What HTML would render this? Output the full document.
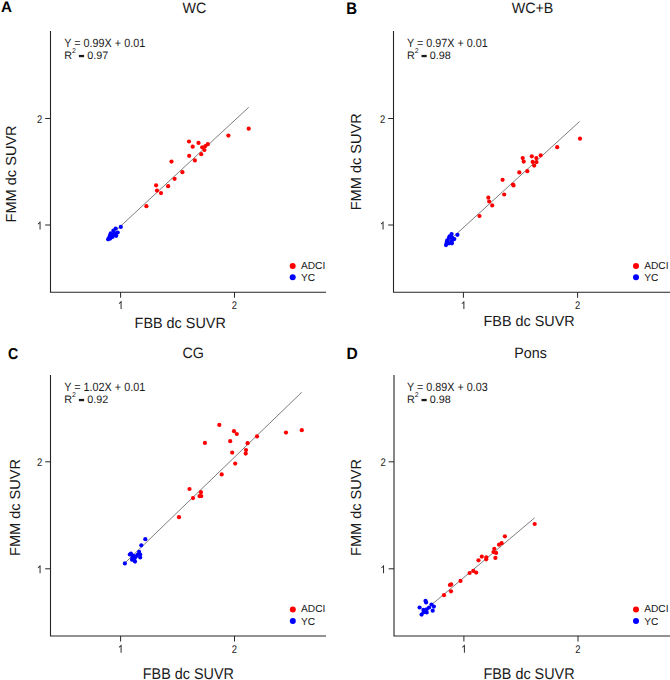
<!DOCTYPE html>
<html><head><meta charset="utf-8"><style>
html,body{margin:0;padding:0;background:#fff;}
svg{display:block;font-family:"Liberation Sans", sans-serif;text-rendering:geometricPrecision;}
</style></head><body>
<svg width="670" height="680" viewBox="0 0 670 680">
<rect width="670" height="680" fill="#fff"/>
<text transform="translate(0.9,11.6) scale(1.0,1)" font-size="15.2" font-weight="bold" fill="#000">A</text>
<text transform="translate(194.5,13.1) scale(1,1.05)" font-size="14.3" text-anchor="middle" fill="#1a1a1a">WC</text>
<path d="M50.5,31 V292.2 H326" fill="none" stroke="#262626" stroke-width="1.1"/>
<line x1="120.6" y1="292.2" x2="120.6" y2="297.7" stroke="#262626" stroke-width="1"/>
<path transform="translate(117.97,308.90) scale(0.004619,-0.005371)" d="M780,0H570V1140Q505,1078 400,1016T205,922V1104Q360,1174 474,1274T634,1466H780Z" fill="#262626"/>
<line x1="234.5" y1="292.2" x2="234.5" y2="297.7" stroke="#262626" stroke-width="1"/>
<text transform="translate(234.50,308.90) scale(0.86,1)" font-size="11.0" text-anchor="middle" fill="#262626">2</text>
<line x1="45.2" y1="118.5" x2="50.5" y2="118.5" stroke="#262626" stroke-width="1"/>
<text transform="translate(42.20,122.90) scale(0.86,1)" font-size="11.0" text-anchor="end" fill="#262626">2</text>
<line x1="45.2" y1="225.0" x2="50.5" y2="225.0" stroke="#262626" stroke-width="1"/>
<path transform="translate(36.94,229.40) scale(0.004619,-0.005371)" d="M780,0H570V1140Q505,1078 400,1016T205,922V1104Q360,1174 474,1274T634,1466H780Z" fill="#262626"/>
<text transform="translate(180.2,328.4) scale(1,1.03)" font-size="14.4" text-anchor="middle" fill="#1a1a1a">FBB dc SUVR</text>
<text transform="translate(15.6,173.9) rotate(-90)" x="0" y="0" font-size="14.55" text-anchor="middle" fill="#1a1a1a">FMM dc SUVR</text>
<text transform="translate(64.3,46.699999999999996) scale(1,1.1)" font-size="10.8" fill="#1a1a1a">Y = 0.99X + 0.01</text>
<text x="64.3" y="59.3" font-size="10.8" fill="#1a1a1a">R</text>
<text x="72.1" y="52.8" font-size="7" fill="#1a1a1a">2</text>
<rect x="78.89999999999999" y="54.9" width="5.2" height="2.3" fill="#1a1a1a"/>
<text x="87.19999999999999" y="59.3" font-size="10.8" fill="#1a1a1a">0.97</text>
<line x1="108.0" y1="237.8" x2="248.7" y2="107.3" stroke="#6e6e6e" stroke-width="0.9"/>
<circle cx="248.7" cy="128.7" r="2.1" fill="#fe0000"/>
<circle cx="228.4" cy="135.6" r="2.1" fill="#fe0000"/>
<circle cx="189.0" cy="141.5" r="2.1" fill="#fe0000"/>
<circle cx="198.5" cy="142.9" r="2.1" fill="#fe0000"/>
<circle cx="192.7" cy="146.7" r="2.1" fill="#fe0000"/>
<circle cx="202.2" cy="147.3" r="2.1" fill="#fe0000"/>
<circle cx="205.4" cy="146.1" r="2.1" fill="#fe0000"/>
<circle cx="207.8" cy="144.2" r="2.1" fill="#fe0000"/>
<circle cx="204.4" cy="150.0" r="2.1" fill="#fe0000"/>
<circle cx="201.2" cy="154.2" r="2.1" fill="#fe0000"/>
<circle cx="189.2" cy="155.8" r="2.1" fill="#fe0000"/>
<circle cx="194.9" cy="160.4" r="2.1" fill="#fe0000"/>
<circle cx="171.5" cy="161.6" r="2.1" fill="#fe0000"/>
<circle cx="182.4" cy="172.2" r="2.1" fill="#fe0000"/>
<circle cx="174.6" cy="178.8" r="2.1" fill="#fe0000"/>
<circle cx="168.1" cy="186.2" r="2.1" fill="#fe0000"/>
<circle cx="156.1" cy="185.3" r="2.1" fill="#fe0000"/>
<circle cx="157.0" cy="190.6" r="2.1" fill="#fe0000"/>
<circle cx="161.0" cy="193.1" r="2.1" fill="#fe0000"/>
<circle cx="146.4" cy="206.2" r="2.1" fill="#fe0000"/>
<circle cx="120.8" cy="226.9" r="2.1" fill="#0000fe"/>
<circle cx="115.7" cy="228.5" r="2.1" fill="#0000fe"/>
<circle cx="113.4" cy="230.7" r="2.1" fill="#0000fe"/>
<circle cx="117.7" cy="232.5" r="2.1" fill="#0000fe"/>
<circle cx="110.7" cy="233.4" r="2.1" fill="#0000fe"/>
<circle cx="114.8" cy="233.4" r="2.1" fill="#0000fe"/>
<circle cx="109.9" cy="235.7" r="2.1" fill="#0000fe"/>
<circle cx="115.7" cy="235.2" r="2.1" fill="#0000fe"/>
<circle cx="112.5" cy="237" r="2.1" fill="#0000fe"/>
<circle cx="108.1" cy="239.3" r="2.1" fill="#0000fe"/>
<circle cx="110.2" cy="238.6" r="2.1" fill="#0000fe"/>
<circle cx="109" cy="237.9" r="2.1" fill="#0000fe"/>
<circle cx="116.2" cy="235.8" r="2.1" fill="#0000fe"/>
<circle cx="112.5" cy="234.3" r="2.1" fill="#0000fe"/>
<circle cx="292.7" cy="265.9" r="3" fill="#fe0000"/>
<circle cx="292.7" cy="277.2" r="3" fill="#0000fe"/>
<text x="300.9" y="268.7" font-size="10.2" fill="#1a1a1a">ADCI</text>
<text x="300.9" y="281.0" font-size="10.2" fill="#1a1a1a">YC</text>
<text transform="translate(346.3,14.0) scale(0.9,1)" font-size="16.6" font-weight="bold" fill="#000">B</text>
<text transform="translate(532.5,13.1) scale(1,1.05)" font-size="14.3" text-anchor="middle" fill="#1a1a1a">WC+B</text>
<path d="M393.5,31 V292.3 H670" fill="none" stroke="#262626" stroke-width="1.1"/>
<line x1="463.4" y1="292.3" x2="463.4" y2="297.8" stroke="#262626" stroke-width="1"/>
<path transform="translate(460.77,309.00) scale(0.004619,-0.005371)" d="M780,0H570V1140Q505,1078 400,1016T205,922V1104Q360,1174 474,1274T634,1466H780Z" fill="#262626"/>
<line x1="577.6" y1="292.3" x2="577.6" y2="297.8" stroke="#262626" stroke-width="1"/>
<text transform="translate(577.60,309.00) scale(0.86,1)" font-size="11.0" text-anchor="middle" fill="#262626">2</text>
<line x1="388.2" y1="118.5" x2="393.5" y2="118.5" stroke="#262626" stroke-width="1"/>
<text transform="translate(385.20,122.90) scale(0.86,1)" font-size="11.0" text-anchor="end" fill="#262626">2</text>
<line x1="388.2" y1="225.0" x2="393.5" y2="225.0" stroke="#262626" stroke-width="1"/>
<path transform="translate(379.94,229.40) scale(0.004619,-0.005371)" d="M780,0H570V1140Q505,1078 400,1016T205,922V1104Q360,1174 474,1274T634,1466H780Z" fill="#262626"/>
<text transform="translate(529.1,325.9) scale(1,1.02)" font-size="14.4" text-anchor="middle" fill="#1a1a1a">FBB dc SUVR</text>
<text transform="translate(361.4,161.8) rotate(-90)" x="0" y="0" font-size="14.55" text-anchor="middle" fill="#1a1a1a">FMM dc SUVR</text>
<text transform="translate(406.9,46.699999999999996) scale(1,1.1)" font-size="10.8" fill="#1a1a1a">Y = 0.97X + 0.01</text>
<text x="406.9" y="59.3" font-size="10.8" fill="#1a1a1a">R</text>
<text x="414.7" y="52.8" font-size="7" fill="#1a1a1a">2</text>
<rect x="421.5" y="54.9" width="5.2" height="2.3" fill="#1a1a1a"/>
<text x="429.79999999999995" y="59.3" font-size="10.8" fill="#1a1a1a">0.98</text>
<line x1="446.0" y1="243.5" x2="579.7" y2="121.4" stroke="#6e6e6e" stroke-width="0.9"/>
<circle cx="580" cy="138.7" r="2.1" fill="#fe0000"/>
<circle cx="557.2" cy="147.2" r="2.1" fill="#fe0000"/>
<circle cx="540.7" cy="155.3" r="2.1" fill="#fe0000"/>
<circle cx="531.8" cy="156.3" r="2.1" fill="#fe0000"/>
<circle cx="536.3" cy="158.1" r="2.1" fill="#fe0000"/>
<circle cx="522.7" cy="158.1" r="2.1" fill="#fe0000"/>
<circle cx="523.7" cy="161.6" r="2.1" fill="#fe0000"/>
<circle cx="532.7" cy="161.9" r="2.1" fill="#fe0000"/>
<circle cx="536.5" cy="162.1" r="2.1" fill="#fe0000"/>
<circle cx="534.2" cy="165.6" r="2.1" fill="#fe0000"/>
<circle cx="527.3" cy="171.2" r="2.1" fill="#fe0000"/>
<circle cx="519.3" cy="172.4" r="2.1" fill="#fe0000"/>
<circle cx="502.6" cy="179.8" r="2.1" fill="#fe0000"/>
<circle cx="513" cy="184.5" r="2.1" fill="#fe0000"/>
<circle cx="513.5" cy="185.4" r="2.1" fill="#fe0000"/>
<circle cx="504.2" cy="194.5" r="2.1" fill="#fe0000"/>
<circle cx="488.3" cy="197.7" r="2.1" fill="#fe0000"/>
<circle cx="489.2" cy="201.5" r="2.1" fill="#fe0000"/>
<circle cx="492.2" cy="205.4" r="2.1" fill="#fe0000"/>
<circle cx="479.5" cy="216" r="2.1" fill="#fe0000"/>
<circle cx="457.4" cy="234.8" r="2.1" fill="#0000fe"/>
<circle cx="451.6" cy="234" r="2.1" fill="#0000fe"/>
<circle cx="449.6" cy="236.4" r="2.1" fill="#0000fe"/>
<circle cx="454.3" cy="239.1" r="2.1" fill="#0000fe"/>
<circle cx="447.2" cy="240.3" r="2.1" fill="#0000fe"/>
<circle cx="451.9" cy="240.9" r="2.1" fill="#0000fe"/>
<circle cx="446" cy="245.1" r="2.1" fill="#0000fe"/>
<circle cx="449" cy="243.3" r="2.1" fill="#0000fe"/>
<circle cx="446.6" cy="242.7" r="2.1" fill="#0000fe"/>
<circle cx="451.9" cy="237.3" r="2.1" fill="#0000fe"/>
<circle cx="449" cy="237.9" r="2.1" fill="#0000fe"/>
<circle cx="451.9" cy="243.3" r="2.1" fill="#0000fe"/>
<circle cx="447.8" cy="241.5" r="2.1" fill="#0000fe"/>
<circle cx="636.0" cy="265.9" r="3" fill="#fe0000"/>
<circle cx="636.0" cy="277.2" r="3" fill="#0000fe"/>
<text x="644.2" y="268.7" font-size="10.2" fill="#1a1a1a">ADCI</text>
<text x="644.2" y="281.0" font-size="10.2" fill="#1a1a1a">YC</text>
<text transform="translate(7.9,358.7) scale(0.9,1)" font-size="15.8" font-weight="bold" fill="#000">C</text>
<text transform="translate(193.2,358.09999999999997) scale(1,1.05)" font-size="14.3" text-anchor="middle" fill="#1a1a1a">CG</text>
<path d="M50.5,375 V636 H326" fill="none" stroke="#262626" stroke-width="1.1"/>
<line x1="120.6" y1="636" x2="120.6" y2="641.5" stroke="#262626" stroke-width="1"/>
<path transform="translate(117.97,652.70) scale(0.004619,-0.005371)" d="M780,0H570V1140Q505,1078 400,1016T205,922V1104Q360,1174 474,1274T634,1466H780Z" fill="#262626"/>
<line x1="234.5" y1="636" x2="234.5" y2="641.5" stroke="#262626" stroke-width="1"/>
<text transform="translate(234.50,652.70) scale(0.86,1)" font-size="11.0" text-anchor="middle" fill="#262626">2</text>
<line x1="45.2" y1="461.8" x2="50.5" y2="461.8" stroke="#262626" stroke-width="1"/>
<text transform="translate(42.20,466.20) scale(0.86,1)" font-size="11.0" text-anchor="end" fill="#262626">2</text>
<line x1="45.2" y1="568.8" x2="50.5" y2="568.8" stroke="#262626" stroke-width="1"/>
<path transform="translate(36.94,573.20) scale(0.004619,-0.005371)" d="M780,0H570V1140Q505,1078 400,1016T205,922V1104Q360,1174 474,1274T634,1466H780Z" fill="#262626"/>
<text transform="translate(188.4,678.5) scale(1,1.08)" font-size="14.4" text-anchor="middle" fill="#1a1a1a">FBB dc SUVR</text>
<text transform="translate(20.4,507.5) rotate(-90)" x="0" y="0" font-size="14.55" text-anchor="middle" fill="#1a1a1a">FMM dc SUVR</text>
<text transform="translate(64.3,390.7) scale(1,1.1)" font-size="10.8" fill="#1a1a1a">Y = 1.02X + 0.01</text>
<text x="64.3" y="403.29999999999995" font-size="10.8" fill="#1a1a1a">R</text>
<text x="72.1" y="396.79999999999995" font-size="7" fill="#1a1a1a">2</text>
<rect x="78.89999999999999" y="398.9" width="5.2" height="2.3" fill="#1a1a1a"/>
<text x="87.19999999999999" y="403.29999999999995" font-size="10.8" fill="#1a1a1a">0.92</text>
<line x1="124.9" y1="563.0" x2="301.7" y2="392.3" stroke="#6e6e6e" stroke-width="0.9"/>
<circle cx="301.8" cy="430.2" r="2.1" fill="#fe0000"/>
<circle cx="286" cy="432.6" r="2.1" fill="#fe0000"/>
<circle cx="219.3" cy="424.9" r="2.1" fill="#fe0000"/>
<circle cx="234" cy="431.2" r="2.1" fill="#fe0000"/>
<circle cx="236.8" cy="434" r="2.1" fill="#fe0000"/>
<circle cx="257" cy="436.4" r="2.1" fill="#fe0000"/>
<circle cx="204.9" cy="442.9" r="2.1" fill="#fe0000"/>
<circle cx="230.2" cy="441.2" r="2.1" fill="#fe0000"/>
<circle cx="247.6" cy="443.2" r="2.1" fill="#fe0000"/>
<circle cx="246" cy="450.1" r="2.1" fill="#fe0000"/>
<circle cx="245.7" cy="453.6" r="2.1" fill="#fe0000"/>
<circle cx="232.2" cy="452.6" r="2.1" fill="#fe0000"/>
<circle cx="235.2" cy="463.6" r="2.1" fill="#fe0000"/>
<circle cx="221.7" cy="474.4" r="2.1" fill="#fe0000"/>
<circle cx="189.5" cy="489" r="2.1" fill="#fe0000"/>
<circle cx="200.9" cy="492.2" r="2.1" fill="#fe0000"/>
<circle cx="199.5" cy="496.1" r="2.1" fill="#fe0000"/>
<circle cx="201.3" cy="496.1" r="2.1" fill="#fe0000"/>
<circle cx="193" cy="498.1" r="2.1" fill="#fe0000"/>
<circle cx="179" cy="517.2" r="2.1" fill="#fe0000"/>
<circle cx="145.3" cy="539.2" r="2.1" fill="#0000fe"/>
<circle cx="141.3" cy="545.3" r="2.1" fill="#0000fe"/>
<circle cx="139.1" cy="551.9" r="2.1" fill="#0000fe"/>
<circle cx="130.9" cy="553.7" r="2.1" fill="#0000fe"/>
<circle cx="133.1" cy="555.6" r="2.1" fill="#0000fe"/>
<circle cx="140.2" cy="554.5" r="2.1" fill="#0000fe"/>
<circle cx="136.1" cy="556.3" r="2.1" fill="#0000fe"/>
<circle cx="140.2" cy="557.5" r="2.1" fill="#0000fe"/>
<circle cx="132" cy="559.7" r="2.1" fill="#0000fe"/>
<circle cx="135" cy="561.6" r="2.1" fill="#0000fe"/>
<circle cx="133.9" cy="560.1" r="2.1" fill="#0000fe"/>
<circle cx="124.9" cy="563.4" r="2.1" fill="#0000fe"/>
<circle cx="129.8" cy="554.5" r="2.1" fill="#0000fe"/>
<circle cx="134.6" cy="558.2" r="2.1" fill="#0000fe"/>
<circle cx="137.6" cy="554.9" r="2.1" fill="#0000fe"/>
<circle cx="132.4" cy="557.1" r="2.1" fill="#0000fe"/>
<circle cx="292.8" cy="609.5" r="3" fill="#fe0000"/>
<circle cx="292.8" cy="621.0" r="3" fill="#0000fe"/>
<text x="301.0" y="612.3" font-size="10.2" fill="#1a1a1a">ADCI</text>
<text x="301.0" y="624.8" font-size="10.2" fill="#1a1a1a">YC</text>
<text transform="translate(346.4,358.9) scale(0.95,1)" font-size="16.4" font-weight="bold" fill="#000">D</text>
<text transform="translate(530.5,358.09999999999997) scale(1,1.05)" font-size="14.3" text-anchor="middle" fill="#1a1a1a">Pons</text>
<path d="M394.0,375 V636 H670" fill="none" stroke="#262626" stroke-width="1.1"/>
<line x1="463.9" y1="636" x2="463.9" y2="641.5" stroke="#262626" stroke-width="1"/>
<path transform="translate(461.27,652.70) scale(0.004619,-0.005371)" d="M780,0H570V1140Q505,1078 400,1016T205,922V1104Q360,1174 474,1274T634,1466H780Z" fill="#262626"/>
<line x1="578.0" y1="636" x2="578.0" y2="641.5" stroke="#262626" stroke-width="1"/>
<text transform="translate(578.00,652.70) scale(0.86,1)" font-size="11.0" text-anchor="middle" fill="#262626">2</text>
<line x1="388.7" y1="461.8" x2="394.0" y2="461.8" stroke="#262626" stroke-width="1"/>
<text transform="translate(385.70,466.20) scale(0.86,1)" font-size="11.0" text-anchor="end" fill="#262626">2</text>
<line x1="388.7" y1="568.8" x2="394.0" y2="568.8" stroke="#262626" stroke-width="1"/>
<path transform="translate(380.44,573.20) scale(0.004619,-0.005371)" d="M780,0H570V1140Q505,1078 400,1016T205,922V1104Q360,1174 474,1274T634,1466H780Z" fill="#262626"/>
<text transform="translate(529.0,678.5) scale(1,1.08)" font-size="14.4" text-anchor="middle" fill="#1a1a1a">FBB dc SUVR</text>
<text transform="translate(361.4,507.5) rotate(-90)" x="0" y="0" font-size="14.55" text-anchor="middle" fill="#1a1a1a">FMM dc SUVR</text>
<text transform="translate(406.9,390.7) scale(1,1.1)" font-size="10.8" fill="#1a1a1a">Y = 0.89X + 0.03</text>
<text x="406.9" y="403.29999999999995" font-size="10.8" fill="#1a1a1a">R</text>
<text x="414.7" y="396.79999999999995" font-size="7" fill="#1a1a1a">2</text>
<rect x="421.5" y="398.9" width="5.2" height="2.3" fill="#1a1a1a"/>
<text x="429.79999999999995" y="403.29999999999995" font-size="10.8" fill="#1a1a1a">0.98</text>
<line x1="419.6" y1="614.8" x2="534.7" y2="517.8" stroke="#6e6e6e" stroke-width="0.9"/>
<circle cx="534.7" cy="524" r="2.1" fill="#fe0000"/>
<circle cx="504.9" cy="536.3" r="2.1" fill="#fe0000"/>
<circle cx="501.6" cy="543.2" r="2.1" fill="#fe0000"/>
<circle cx="499" cy="544.7" r="2.1" fill="#fe0000"/>
<circle cx="494.3" cy="548.8" r="2.1" fill="#fe0000"/>
<circle cx="493.5" cy="552.1" r="2.1" fill="#fe0000"/>
<circle cx="496.1" cy="552.9" r="2.1" fill="#fe0000"/>
<circle cx="495.4" cy="557.9" r="2.1" fill="#fe0000"/>
<circle cx="481.8" cy="556.6" r="2.1" fill="#fe0000"/>
<circle cx="486.3" cy="557.4" r="2.1" fill="#fe0000"/>
<circle cx="486.2" cy="559.3" r="2.1" fill="#fe0000"/>
<circle cx="478.5" cy="560.3" r="2.1" fill="#fe0000"/>
<circle cx="473.3" cy="570.9" r="2.1" fill="#fe0000"/>
<circle cx="476.2" cy="572.6" r="2.1" fill="#fe0000"/>
<circle cx="469.6" cy="573" r="2.1" fill="#fe0000"/>
<circle cx="460.5" cy="580.9" r="2.1" fill="#fe0000"/>
<circle cx="449.9" cy="585" r="2.1" fill="#fe0000"/>
<circle cx="451.2" cy="584.4" r="2.1" fill="#fe0000"/>
<circle cx="451" cy="591.3" r="2.1" fill="#fe0000"/>
<circle cx="444" cy="595.2" r="2.1" fill="#fe0000"/>
<circle cx="425.5" cy="600.9" r="2.1" fill="#0000fe"/>
<circle cx="426.1" cy="602.4" r="2.1" fill="#0000fe"/>
<circle cx="419.6" cy="607.5" r="2.1" fill="#0000fe"/>
<circle cx="431.5" cy="604.5" r="2.1" fill="#0000fe"/>
<circle cx="433.9" cy="606.6" r="2.1" fill="#0000fe"/>
<circle cx="429.1" cy="607.5" r="2.1" fill="#0000fe"/>
<circle cx="423.4" cy="609.9" r="2.1" fill="#0000fe"/>
<circle cx="426.7" cy="609.3" r="2.1" fill="#0000fe"/>
<circle cx="432.7" cy="610.7" r="2.1" fill="#0000fe"/>
<circle cx="426.7" cy="612.5" r="2.1" fill="#0000fe"/>
<circle cx="421.6" cy="614.6" r="2.1" fill="#0000fe"/>
<circle cx="423.7" cy="612.2" r="2.1" fill="#0000fe"/>
<circle cx="636.0" cy="609.5" r="3" fill="#fe0000"/>
<circle cx="636.0" cy="621.0" r="3" fill="#0000fe"/>
<text x="644.2" y="612.3" font-size="10.2" fill="#1a1a1a">ADCI</text>
<text x="644.2" y="624.8" font-size="10.2" fill="#1a1a1a">YC</text>
</svg>
</body></html>
